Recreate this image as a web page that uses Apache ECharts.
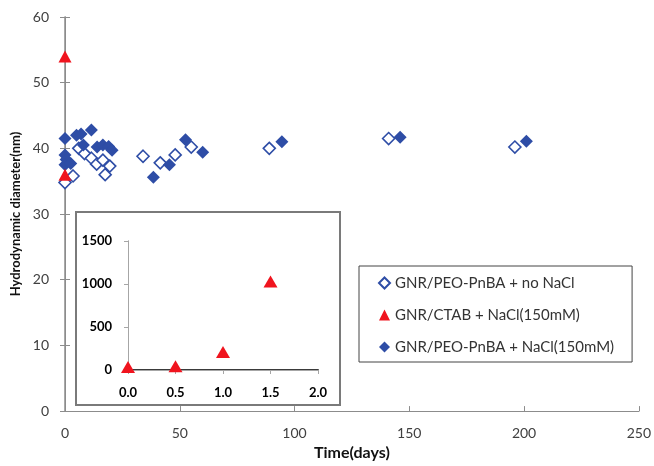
<!DOCTYPE html>
<html>
<head>
<meta charset="utf-8">
<script src="https://cdn.jsdelivr.net/npm/echarts@6/dist/echarts.min.js"></script>
<style>html,body{margin:0;padding:0;background:#fff}#c{width:654px;height:466px}</style>
</head>
<body>
<div id="c"></div>
<script>
// ---- data ----
const xTicks = [0, 50, 100, 150, 200, 250];
const yTicks = [0, 10, 20, 30, 40, 50, 60];
const insetXTicks = [0, 0.5, 1.0, 1.5, 2.0];
const insetYTicks = [0, 500, 1000, 1500];

const seriesNames = ['GNR/PEO-PnBA + no NaCl', 'GNR/CTAB + NaCl(150mM)', 'GNR/PEO-PnBA + NaCl(150mM)'];

const noNaclDays = [0, 3.5, 6, 8.5, 11.5, 13.8, 16.5, 17.5, 19.5, 34, 41.5, 48, 55, 89, 141, 196];
const noNaclDiam = [34.8, 35.8, 40, 39.2, 38.5, 37.6, 38.2, 36, 37.3, 38.8, 37.8, 39, 40.2, 40, 41.5, 40.2];

const ctabDays = [0, 0];
const ctabDiam = [54, 36];

const naclDays = [0, 0, 0.5, 0, 2.5, 5, 7, 8, 11.5, 14, 16.5, 19, 20.5, 38.5, 45.5, 52.5, 60, 94.5, 146, 201];
const naclDiam = [41.5, 39, 38.3, 37.5, 37.7, 42, 42.2, 40.5, 42.8, 40.2, 40.5, 40.3, 39.7, 35.6, 37.5, 41.3, 39.4, 41.0, 41.7, 41.1];

const insetDays = [0, 0.5, 1.0, 1.5];
const insetDiam = [35, 45, 210, 1030];

const pairs = (xs, ys) => xs.map((x, i) => [x, ys[i]]);

const BLUE = '#2E4DA6';
const RED = '#F0141E';
const GRAY = '#8C8C8C';
const FONT = 'Lato';

const chart = echarts.init(document.getElementById('c'));
chart.setOption({
  animation: false,
  backgroundColor: '#fff',
  grid: [
    {left: 65, top: 17, width: 574, height: 400},
    {left: 128, top: 241, width: 190, height: 129}
  ],
  graphic: [{
    type: 'rect', z: 1,
    shape: {x: 76, y: 212, width: 264, height: 193},
    style: {fill: '#fff', stroke: '#7a7a7a', lineWidth: 2}
  }],
  legend: {
    orient: 'vertical', left: 359, top: 266,
    data: seriesNames,
    backgroundColor: '#fff',
    borderColor: '#444', borderWidth: 1,
    padding: [9, 18, 7, 19],
    itemGap: 16, itemWidth: 11, itemHeight: 11,
    textStyle: {fontFamily: FONT, fontSize: 15, color: '#333', lineHeight: 16}
  },
  xAxis: [
    {gridIndex: 0, type: 'value', min: 0, max: 250, interval: 50,
     name: 'Time(days)', nameLocation: 'middle', nameGap: 31,
     nameTextStyle: {fontFamily: FONT, fontWeight: 'bold', fontSize: 16, color: '#111'},
     axisLine: {show: true, lineStyle: {color: GRAY}}, axisTick: {inside: true, length: 5, lineStyle: {color: GRAY}},
     splitLine: {show: false},
     axisLabel: {fontFamily: FONT, fontSize: 14, color: '#404040', margin: 15,
                 formatter: v => String(v)}},
    {gridIndex: 0, type: 'value', min: 0, max: 250, interval: 50, position: 'top',
     axisLine: {show: true, lineStyle: {color: GRAY}}, axisTick: {show: false}, axisLabel: {show: false}, splitLine: {show: false}},
    {gridIndex: 1, type: 'value', min: 0, max: 2, interval: 0.5, z: 3,
     axisLine: {show: true, lineStyle: {color: '#3a3a3a', width: 2}}, axisTick: {show: false},
     splitLine: {show: false},
     axisLabel: {fontFamily: FONT, fontSize: 13, fontWeight: 'bold', color: '#000', margin: 16,
                 formatter: v => v.toFixed(1)}},
    {gridIndex: 1, type: 'value', min: 0, max: 2, interval: 0.5, position: 'top', z: 3,
     axisLine: {show: true, lineStyle: {color: '#a6a6a6'}}, axisTick: {show: true, inside: true, length: 4, lineStyle: {color: '#a6a6a6'}},
     axisLabel: {show: false}, splitLine: {show: false}}
  ],
  yAxis: [
    {gridIndex: 0, type: 'value', min: 0, max: 60, interval: 10,
     name: 'Hydrodynamic diameter(nm)', nameLocation: 'middle', nameGap: 37,
     nameTextStyle: {fontFamily: FONT, fontWeight: 'bold', fontSize: 13, color: '#111'},
     axisLine: {show: true, lineStyle: {color: GRAY}}, axisTick: {show: true, inside: true, length: 5, lineStyle: {color: GRAY}},
     splitLine: {show: false},
     axisLabel: {fontFamily: FONT, fontSize: 14, color: '#404040', margin: 16}},
    {gridIndex: 0, type: 'value', min: 0, max: 60, interval: 10, position: 'right',
     axisLine: {show: true, lineStyle: {color: GRAY, width: 1.5}}, axisTick: {show: true, inside: true, length: 5, lineStyle: {color: GRAY}},
     axisLabel: {show: false}, splitLine: {show: false}},
    {gridIndex: 1, type: 'value', min: 0, max: 1500, interval: 500, z: 3,
     axisLine: {show: true, lineStyle: {color: '#a6a6a6'}}, axisTick: {show: false},
     splitLine: {show: false},
     axisLabel: {fontFamily: FONT, fontSize: 13, fontWeight: 'bold', color: '#000', margin: 16,
                 formatter: v => String(v)}},
    {gridIndex: 1, type: 'value', min: 0, max: 1500, interval: 500, position: 'right', z: 3,
     axisLine: {show: true, lineStyle: {color: '#a6a6a6'}}, axisTick: {show: true, inside: true, length: 4, lineStyle: {color: '#a6a6a6'}},
     axisLabel: {show: false}, splitLine: {show: false}}
  ],
  series: [
    {name: seriesNames[0], type: 'scatter', xAxisIndex: 0, yAxisIndex: 0, z: 3,
     symbol: 'diamond', symbolSize: 12,
     itemStyle: {color: '#fff', borderColor: BLUE, borderWidth: 1.6, opacity: 1},
     data: pairs(noNaclDays, noNaclDiam)},
    {name: seriesNames[2], type: 'scatter', xAxisIndex: 0, yAxisIndex: 0, z: 4,
     symbol: 'diamond', symbolSize: 13,
     itemStyle: {color: BLUE, opacity: 1},
     data: pairs(naclDays, naclDiam)},
    {name: seriesNames[1], type: 'scatter', xAxisIndex: 0, yAxisIndex: 0, z: 5,
     symbol: 'triangle', symbolSize: [13, 12],
     itemStyle: {color: RED, opacity: 1},
     data: pairs(ctabDays, ctabDiam)},
    {name: seriesNames[1], type: 'scatter', xAxisIndex: 2, yAxisIndex: 2, z: 5,
     symbol: 'triangle', symbolSize: [14, 12],
     itemStyle: {color: RED, opacity: 1},
     data: pairs(insetDays, insetDiam)}
  ]
});
</script>
</body>
</html>
